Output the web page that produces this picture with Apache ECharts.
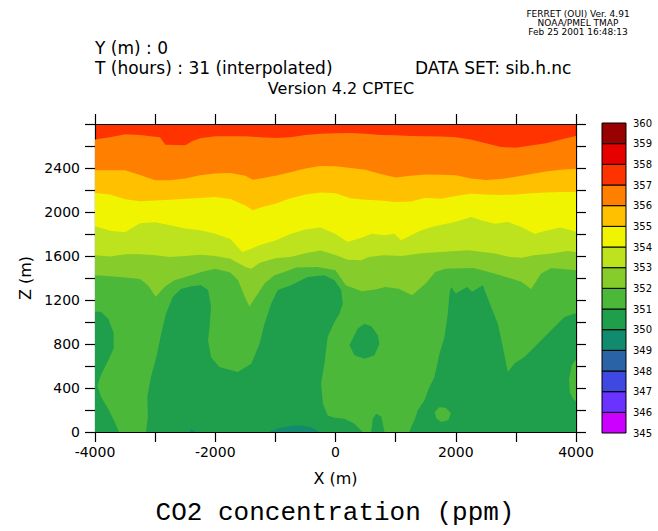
<!DOCTYPE html>
<html><head><meta charset="utf-8">
<script src="https://cdn.jsdelivr.net/npm/echarts@6/dist/echarts.min.js"></script>
<style>html,body{margin:0;padding:0;background:#fff}#c{width:658px;height:531px}</style>
</head><body><div id="c"></div>
<script>
// colour bar: band boundaries and one colour per band (345-346 ... 359-360)
const bandLevels = [345,346,347,348,349,350,351,352,353,354,355,356,357,358,359,360];
const bandColors = ['#cc00ff','#6a33ff','#3f48e0','#2b64a6','#128a6e','#1f9e4b','#4cb83a','#86cc2a','#bde21e','#f0f400','#ffc000','#ff7f00','#ff3300','#e60000','#990000'];

// contour lines [x (m), z (m)]
const c357 = [[-4000,2658],[-3750,2680],[-3500,2706],[-3250,2700],[-3000,2685],[-2920,2680],[-2830,2612],[-2500,2606],[-2380,2645],[-2250,2670],[-2000,2688],[-1750,2688],[-1500,2688],[-1250,2680],[-1000,2672],[-750,2680],[-500,2700],[-250,2712],[0,2715],[250,2718],[500,2712],[750,2700],[1000,2697],[1250,2692],[1500,2688],[1750,2686],[2000,2680],[2250,2660],[2500,2625],[2750,2590],[3000,2585],[3250,2605],[3500,2625],[3750,2660],[4000,2690]];
const c356 = [[-4000,2379],[-3750,2379],[-3500,2379],[-3250,2336],[-3000,2288],[-2750,2288],[-2500,2305],[-2250,2335],[-2000,2350],[-1750,2355],[-1500,2330],[-1375,2294],[-1250,2305],[-1000,2330],[-750,2362],[-500,2395],[-250,2418],[0,2415],[250,2400],[500,2385],[750,2345],[1000,2313],[1250,2330],[1500,2340],[1750,2338],[2000,2335],[2250,2305],[2500,2290],[2750,2300],[3000,2320],[3250,2345],[3500,2368],[3750,2385],[4000,2394]];
const c355 = [[-4000,2173],[-3750,2160],[-3500,2115],[-3250,2097],[-3000,2105],[-2750,2112],[-2500,2120],[-2250,2128],[-2000,2136],[-1750,2118],[-1500,2060],[-1375,2015],[-1250,2040],[-1000,2075],[-750,2125],[-500,2160],[-250,2178],[0,2170],[250,2125],[500,2112],[750,2104],[1000,2090],[1250,2095],[1500,2130],[1750,2120],[2000,2145],[2250,2165],[2500,2160],[2750,2155],[3000,2160],[3250,2170],[3500,2178],[3750,2182],[4000,2182]];
const c354 = [[-4000,1870],[-3750,1830],[-3500,1815],[-3250,1897],[-3000,1907],[-2750,1880],[-2500,1850],[-2250,1835],[-2000,1803],[-1750,1755],[-1600,1665],[-1550,1636],[-1400,1667],[-1250,1700],[-1000,1740],[-750,1800],[-500,1840],[-250,1860],[0,1800],[200,1727],[430,1767],[600,1803],[815,1788],[980,1803],[1090,1743],[1200,1773],[1425,1834],[1650,1870],[1980,1909],[2260,1955],[2420,1925],[2650,1894],[2870,1909],[3090,1864],[3310,1803],[3530,1834],[3750,1858],[4000,1820]];
const c353 = [[-4000,1606],[-3750,1595],[-3500,1615],[-3250,1615],[-3000,1606],[-2750,1590],[-2500,1600],[-2250,1612],[-2000,1600],[-1750,1575],[-1500,1500],[-1400,1485],[-1250,1540],[-1000,1580],[-750,1590],[-500,1625],[-250,1650],[0,1610],[200,1565],[430,1561],[550,1591],[800,1606],[1100,1600],[1400,1622],[1750,1636],[2200,1652],[2450,1636],[2650,1622],[2900,1591],[3100,1585],[3300,1606],[3600,1622],[3850,1646],[4000,1636]];
const c352 = [[-4000,1425],[-3750,1415],[-3500,1405],[-3250,1390],[-3120,1335],[-2990,1230],[-2840,1320],[-2680,1380],[-2400,1425],[-2235,1455],[-2000,1485],[-1750,1450],[-1620,1380],[-1510,1230],[-1430,1140],[-1350,1210],[-1180,1350],[-1015,1425],[-850,1455],[-650,1495],[-300,1500],[0,1470],[170,1335],[440,1280],[660,1295],[830,1318],[1050,1303],[1275,1243],[1500,1350],[1660,1455],[1830,1485],[2300,1490],[2640,1440],[2920,1395],[3090,1365],[3255,1300],[3420,1440],[3590,1490],[4000,1470]];

// closed regions [x, z]
const band350Regions = [
  [[-4000,0],[-4000,1095],[-3900,1090],[-3780,1030],[-3690,900],[-3690,760],[-3790,640],[-3900,520],[-3960,420],[-3900,320],[-3770,200],[-3680,100],[-3600,0]],
  [[-3150,0],[-3120,140],[-3130,320],[-3070,500],[-2980,680],[-2900,890],[-2820,1075],[-2705,1230],[-2570,1300],[-2400,1325],[-2235,1335],[-2120,1290],[-2070,1140],[-2095,955],[-2120,835],[-2070,680],[-1930,590],[-1625,545],[-1400,620],[-1265,800],[-1180,985],[-1070,1165],[-960,1290],[-740,1335],[-460,1410],[-185,1425],[-17,1380],[95,1290],[120,1165],[65,1075],[-17,1000],[-130,865],[-185,620],[-240,440],[-210,260],[-130,150],[-17,130],[150,120],[316,76],[450,0]],
  [[593,0],[620,120],[676,167],[760,140],[815,0]],
  [[1230,0],[1258,46],[1314,107],[1369,197],[1480,288],[1563,410],[1646,500],[1729,712],[1813,864],[1868,1076],[1896,1258],[1923,1318],[2000,1260],[2100,1290],[2190,1318],[2270,1275],[2450,1334],[2589,1137],[2700,985],[2783,773],[2866,546],[2977,622],[3143,682],[3365,803],[3587,925],[3808,1046],[4000,1080],[4000,0]],
  [[482,985],[600,960],[704,879],[731,803],[648,697],[482,667],[316,697],[232,788],[288,849],[371,940]]
];
const band351Islands = [
  [[4000,660],[3930,610],[3885,480],[3900,360],[3950,300],[4000,280]],
  [[1650,180],[1720,225],[1830,220],[1920,170],[1880,110],[1760,90],[1680,120]]
];
const band349Regions = [
  [[-1100,0],[-950,35],[-750,55],[-560,58],[-400,40],[-270,0]],
  [[-2430,0],[-2400,25],[-2330,0]]
];

const xTicks = {min:-4000, max:4000, interval:2000};
const zTicks = {min:0, max:2800, interval:400};

function col(level){ return bandColors[bandLevels.indexOf(level)]; }
const plain = v => String(v);

const chart = echarts.init(document.getElementById('c'), null, {renderer:'svg'});
const FONT = 'DejaVu Sans';
const contourList = [[c357,356],[c356,355],[c355,354],[c354,353],[c353,352],[c352,351]];
const series = [];
contourList.forEach(([pts, lvl], i) => {
  series.push({type:'line', xAxisIndex:0, yAxisIndex:0, data: pts, symbol:'none', silent:true,
    lineStyle:{width:0}, areaStyle:{color: col(lvl), opacity:1}, z: 2+i, animation:false});
});
function polySeries(polys, color, z){
  return {type:'custom', xAxisIndex:0, yAxisIndex:0, z, silent:true, clip:true, animation:false,
    data: polys.map((p,i)=>[p[0][0], p[0][1], i]),
    renderItem: (params, api) => ({type:'polygon',
      shape:{points: polys[params.dataIndex].map(pt => api.coord(pt))},
      style:{fill: color}})};
}
series.push(polySeries(band350Regions, col(350), 10));
series.push(polySeries(band351Islands, col(351), 11));
series.push(polySeries(band349Regions, col(349), 12));
series.push({type:'custom', xAxisIndex:2, yAxisIndex:2, silent:true, animation:false, z:5,
  data: bandColors.map((c,i)=>[0, bandLevels[i], bandLevels[i+1]]),
  encode:{x:0, y:[1,2]},
  renderItem: (params, api) => {
    const lo = api.coord([0, api.value(1)]);
    const hi = api.coord([0, api.value(2)]);
    const cs = params.coordSys;
    return {type:'rect', shape:{x: cs.x, y: hi[1], width: cs.width, height: lo[1]-hi[1]},
      style:{fill: bandColors[params.dataIndex], stroke:'#000', lineWidth:1}};
  }});

const axLine = {show:true, onZero:false, lineStyle:{color:'#000', width:1.2}};
const tick = {show:true, inside:false, length:10, lineStyle:{color:'#000', width:1.2}};
const minor = {show:true, splitNumber:2, length:10, lineStyle:{color:'#000', width:1.2}};
const txt = (x, y, text, size, align, family) => ({type:'text', x, y,
  style:{text, font: size + 'px "' + (family || FONT) + '"', fill:'#000', align, verticalAlign:'middle', textAlign:align, textVerticalAlign:'middle'}});

chart.setOption({
  animation:false,
  backgroundColor:'#fff',
  grid:[
    {left:95, top:124, width:481, height:308, show:true, backgroundColor: col(357), borderWidth:0},
    {left:602, top:123, width:24, height:310}
  ],
  xAxis:[
    {type:'value', gridIndex:0, position:'bottom', ...xTicks, axisLine:axLine, axisTick:tick, minorTick:minor,
     splitLine:{show:false}, name:'X (m)', nameLocation:'middle', nameGap:38,
     nameTextStyle:{fontFamily:FONT, fontSize:16, color:'#000'},
     axisLabel:{fontFamily:FONT, fontSize:14, color:'#000', margin:13, formatter: plain}},
    {type:'value', gridIndex:0, position:'top', ...xTicks, axisLine:axLine, axisTick:tick, minorTick:minor,
     splitLine:{show:false}, axisLabel:{show:false}},
    {type:'category', gridIndex:1, data:['cb'], show:false}
  ],
  yAxis:[
    {type:'value', gridIndex:0, position:'left', ...zTicks, axisLine:axLine, axisTick:tick, minorTick:minor,
     splitLine:{show:false}, name:'Z (m)', nameLocation:'middle', nameGap:60,
     nameTextStyle:{fontFamily:FONT, fontSize:16, color:'#000'},
     axisLabel:{fontFamily:FONT, fontSize:14, color:'#000', margin:15, showMaxLabel:false, formatter: plain}},
    {type:'value', gridIndex:0, position:'right', ...zTicks, axisLine:axLine, axisTick:tick, minorTick:minor,
     splitLine:{show:false}, axisLabel:{show:false}},
    {type:'value', gridIndex:1, position:'right', min:345, max:360, interval:1,
     axisLine:{show:false}, axisTick:{show:false}, splitLine:{show:false},
     axisLabel:{fontFamily:FONT, fontSize:10, color:'#000', margin:7, formatter: plain}}
  ],
  graphic:[
    txt(578, 14, 'FERRET (OUI) Ver. 4.91', 9, 'center'),
    txt(578, 23, 'NOAA/PMEL TMAP', 9, 'center'),
    txt(578, 32, 'Feb 25 2001 16:48:13', 9, 'center'),
    txt(95, 48, 'Y (m) : 0', 17, 'left'),
    txt(95, 68, 'T (hours) : 31 (interpolated)', 17, 'left'),
    txt(415, 68, 'DATA SET: sib.h.nc', 17, 'left'),
    txt(341, 88, 'Version 4.2 CPTEC', 16, 'center'),
    txt(335, 513, 'CO2 concentration (ppm)', 26, 'center', 'Liberation Mono')
  ],
  series
});
</script></body></html>
